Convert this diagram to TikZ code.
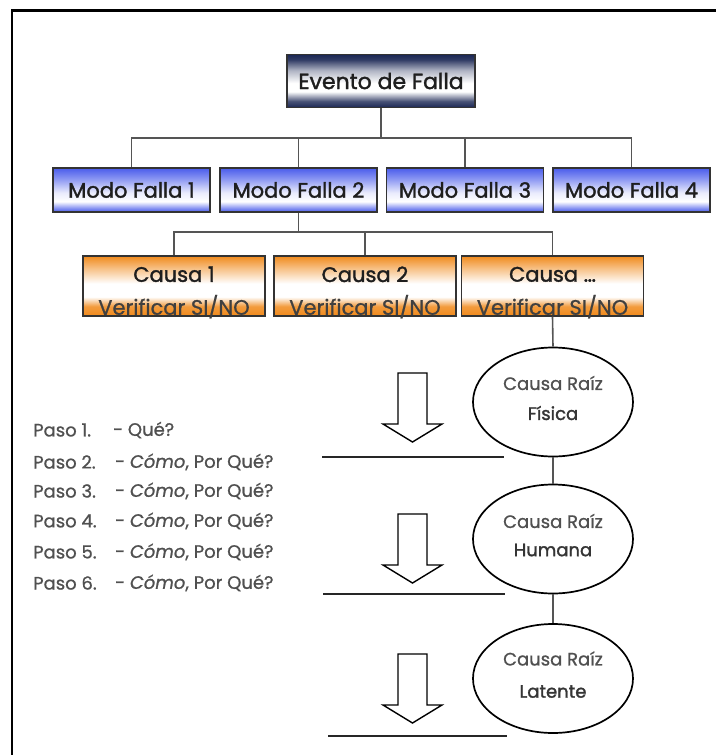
\documentclass[tikz,border=0pt]{standalone}
\usepackage{fontspec}
\setmainfont{Poppins}[UprightFeatures={FakeBold=0.9}, ItalicFeatures={FakeBold=0.9}]
\newfontfamily\heavyfont{Poppins}[UprightFeatures={FakeBold=1.6}, ItalicFeatures={FakeBold=1.6}]
\usetikzlibrary{shapes.geometric}

\definecolor{navy}{HTML}{1B2754}
\definecolor{modoblue}{HTML}{4A5CEB}
\definecolor{causaorange}{HTML}{F08A1C}
\definecolor{wire}{HTML}{555555}
\definecolor{ink}{HTML}{1E1E1E}
\definecolor{softink}{HTML}{505050}

% vertical shadings: 25bp = bottom edge of the box, 75bp = top edge
\pgfdeclareverticalshading{eventoshade}{100bp}{color(0bp)=(navy); color(25bp)=(navy);
  color(31bp)=(navy!80!white); color(40bp)=(white); color(48bp)=(white);
  color(60bp)=(navy!35!white); color(70bp)=(navy!90!white); color(75bp)=(navy); color(100bp)=(navy)}
\pgfdeclareverticalshading{modoshade}{100bp}{color(0bp)=(modoblue); color(25bp)=(modoblue);
  color(29bp)=(modoblue!70!white); color(37bp)=(white); color(47bp)=(modoblue!12!white);
  color(63bp)=(modoblue!65!white); color(75bp)=(modoblue); color(100bp)=(modoblue)}
\pgfdeclareverticalshading{causashade}{100bp}{color(0bp)=(causaorange); color(25bp)=(causaorange);
  color(33bp)=(causaorange!85!white); color(41bp)=(white); color(52bp)=(white);
  color(65bp)=(causaorange!55!white); color(75bp)=(causaorange); color(100bp)=(causaorange)}

\tikzset{
  frame/.style={line width=2.2pt, black},
  wireline/.style={line width=1.6pt, wire},
  eventbox/.style={draw=black!80, line width=1.3pt, shading=eventoshade, minimum width=188pt,
    minimum height=53pt, inner sep=0pt, text=ink, font=\heavyfont\fontsize{22}{24}\selectfont},
  modebox/.style={draw=black!80, line width=1.3pt, shading=modoshade, minimum width=157pt,
    minimum height=44pt, inner sep=0pt, text=ink, font=\heavyfont\fontsize{21}{22}\selectfont},
  causebox/.style={draw=black!80, line width=1.3pt, shading=causashade, minimum width=182pt,
    minimum height=60pt, inner sep=0pt},
  causetitle/.style={inner sep=0pt, text=ink, font=\heavyfont\fontsize{21}{22}\selectfont},
  causecheck/.style={inner sep=0pt, text=ink!85, font=\fontsize{21}{22}\selectfont},
  rootnode/.style={ellipse, draw=black, line width=1.7pt, fill=white, minimum width=160pt,
    minimum height=109pt, inner sep=0pt},
  roottop/.style={inner sep=0pt, text=softink, font=\fontsize{18}{20}\selectfont},
  rootkind/.style={inner sep=0pt, text=ink!90, font=\heavyfont\fontsize{18}{20}\selectfont},
  steptext/.style={anchor=west, inner sep=0pt, text=softink, font=\fontsize{18}{20}\selectfont},
  rule/.style={line width=1.6pt, black!85},
  hollowarrow/.pic={
    \draw[line width=1.4pt, black, fill=white, line join=miter]
      (-14.5,0) -- (14.5,0) -- (14.5,51) -- (29.5,51) -- (0,69) -- (-29.5,51) -- (-14.5,51) -- cycle;
  }
}

\begin{document}
\begin{tikzpicture}[x=1pt,y=-1pt]
\useasboundingbox (0,0) rectangle (716,755);

% page frame (top and left edges)
\draw[frame] (12,755) -- (12,10.5) -- (716,10.5);

% failure event and failure modes
\node[eventbox] (ev) at (381,81) {Evento de Falla};
\node[modebox] (m1) at (131.5,190) {Modo Falla 1};
\node[modebox] (m2) at (298.5,190) {Modo Falla 2};
\node[modebox] (m3) at (465,190) {Modo Falla 3};
\node[modebox] (m4) at (631.5,190) {Modo Falla 4};

\coordinate (busA) at (381,138);
\draw[wireline] (ev.south) -- (ev.south |- busA);
\draw[wireline] (m1.north) -- (m1.north |- busA) -- (m4.north |- busA) -- (m4.north);
\draw[wireline] (m2.north) -- (m2.north |- busA);
\draw[wireline] (m3.north) -- (m3.north |- busA);

% causes of mode 2
\node[causebox] (c1) at (174,286) {};
\node[causebox] (c2) at (365,286) {};
\node[causebox] (c3) at (552.5,286) {};
\node[causetitle] (c1t) at ([yshift=-19pt]c1.north) {Causa 1};
\node[causetitle] (c2t) at ([yshift=-19pt]c2.north) {Causa 2};
\node[causetitle] (c3t) at ([yshift=-19pt]c3.north) {Causa \dots};
\node[causecheck] (c1v) at ([yshift=10pt]c1.south) {Verificar SI/NO};
\node[causecheck] (c2v) at ([yshift=10pt]c2.south) {Verificar SI/NO};
\node[causecheck] (c3v) at ([yshift=10pt]c3.south) {Verificar SI/NO};

\coordinate (busB) at (298.5,232);
\draw[wireline] (m2.south) -- (m2.south |- busB);
\draw[wireline] (c1.north) -- (c1.north |- busB) -- (c3.north |- busB) -- (c3.north);
\draw[wireline] (c2.north) -- (c2.north |- busB);

% root cause chain
\node[rootnode] (r1) at (553,402) {};
\node[rootnode] (r2) at (553,539) {};
\node[rootnode] (r3) at (553,678.5) {};
\node[roottop] (r1t) at ([yshift=19pt]r1.center) {Causa Raíz};
\node[rootkind] (r1k) at ([yshift=-11pt]r1.center) {Física};
\node[roottop] (r2t) at ([yshift=18pt]r2.center) {Causa Raíz};
\node[rootkind] (r2k) at ([yshift=-11pt]r2.center) {Humana};
\node[roottop] (r3t) at ([yshift=20pt]r3.center) {Causa Raíz};
\node[rootkind] (r3k) at ([yshift=-13pt]r3.center) {Latente};

\draw[wireline] (c3.south) -- (r1.north);
\draw[wireline] (r1.south) -- (r2.north);
\draw[wireline] (r2.south) -- (r3.north);

% downward block arrows and level rules
\pic at (412.5,373) {hollowarrow};
\pic at (412.5,514) {hollowarrow};
\pic at (412.5,654) {hollowarrow};
\draw[rule] (322,457) -- (504,457);
\draw[rule] (323,594) -- (505,594);
\draw[rule] (328,736) -- (507,736);

% analysis steps
\node[steptext] (p1) at (33,430) {Paso 1.};
\node[steptext] (q1) at (113,430) {- Qué?};
\foreach \n/\yy in {2/462,3/491,4/521,5/552,6/583}{
  \node[steptext] (p\n) at (33,\yy) {Paso \n.};
  \node[steptext] (q\n) at (115,\yy) {- \textit{Cómo}, Por Qué?};
}
\end{tikzpicture}
\end{document}
